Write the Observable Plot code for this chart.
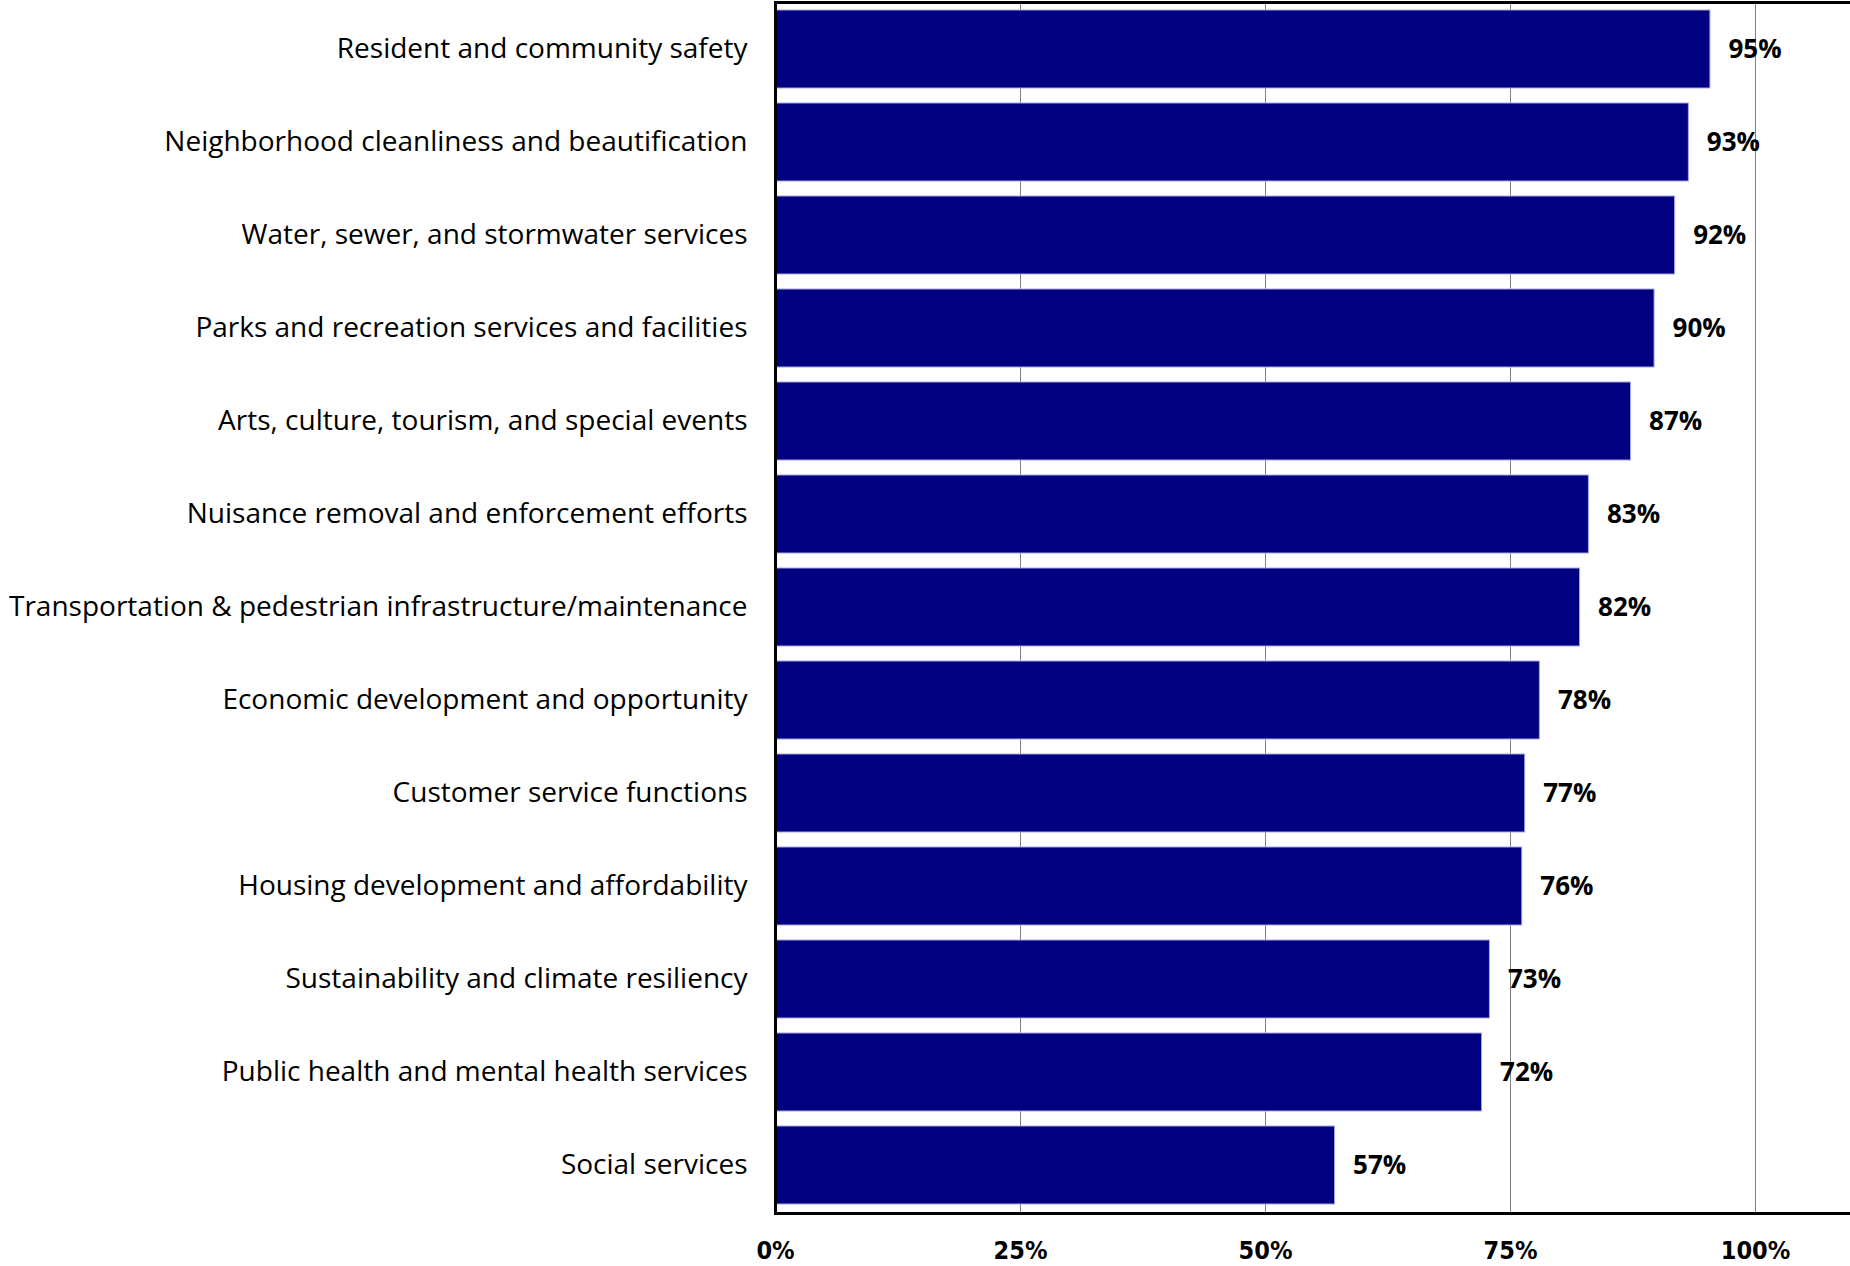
<!DOCTYPE html>
<html><head><meta charset="utf-8">
<script src="https://cdn.jsdelivr.net/npm/d3@7"></script>
<script src="https://cdn.jsdelivr.net/npm/@observablehq/plot@0.6"></script>
<style>body{margin:0;background:#fff}</style>
</head><body><div id="chart"></div>
<script>
const categories = [
  "Resident and community safety",
  "Neighborhood cleanliness and beautification",
  "Water, sewer, and stormwater services",
  "Parks and recreation services and facilities",
  "Arts, culture, tourism, and special events",
  "Nuisance removal and enforcement efforts",
  "Transportation & pedestrian infrastructure/maintenance",
  "Economic development and opportunity",
  "Customer service functions",
  "Housing development and affordability",
  "Sustainability and climate resiliency",
  "Public health and mental health services",
  "Social services"
];
const values = [0.954, 0.932, 0.918, 0.897, 0.873, 0.830, 0.821, 0.780, 0.765, 0.762, 0.729, 0.721, 0.571];
const valueLabels = ["95%", "93%", "92%", "90%", "87%", "83%", "82%", "78%", "77%", "76%", "73%", "72%", "57%"];
const xTicks = [0, 0.25, 0.5, 0.75, 1];
const xTickLabels = ["0%", "25%", "50%", "75%", "100%"];

const data = categories.map((c, i) => ({category: c, value: values[i], label: valueLabels[i]}));

const chart = Plot.plot({
  width: 1850, height: 1266,
  marginLeft: 775, marginRight: -3, marginTop: 2, marginBottom: 53,
  style: {fontFamily: "'Open Sans', Lato, sans-serif", background: "#fff", color: "#000"},
  x: {domain: [0, 1.1]},
  y: {domain: categories, paddingInner: 0.16, paddingOuter: 0.08},
  marks: [
    Plot.gridX(xTicks.slice(1), {stroke: "#808080", strokeOpacity: 1, strokeWidth: 1}),
    Plot.barX(data, {x: "value", y: "category", fill: "#000080", stroke: "#a8a8e0", strokeWidth: 1}),
    Plot.text(data, {x: "value", y: "category", text: "label", textAnchor: "start", dx: 18,
      fontWeight: "bold", fontSize: 26, fill: "#000"}),
    Plot.axisX({ticks: xTicks, tickFormat: d => xTickLabels[xTicks.indexOf(d)], tickSize: 0, tickPadding: 28,
      fontSize: 25, fontWeight: "bold", fontFamily: "'Liberation Sans Narrow', 'DejaVu Sans Condensed', sans-serif", label: null}),
    Plot.axisY({tickSize: 0, tickPadding: 28, fontSize: 28, label: null}),
    Plot.frame({stroke: "#000", strokeWidth: 3})
  ]
});
document.getElementById("chart").append(chart);
</script>
</body></html>
